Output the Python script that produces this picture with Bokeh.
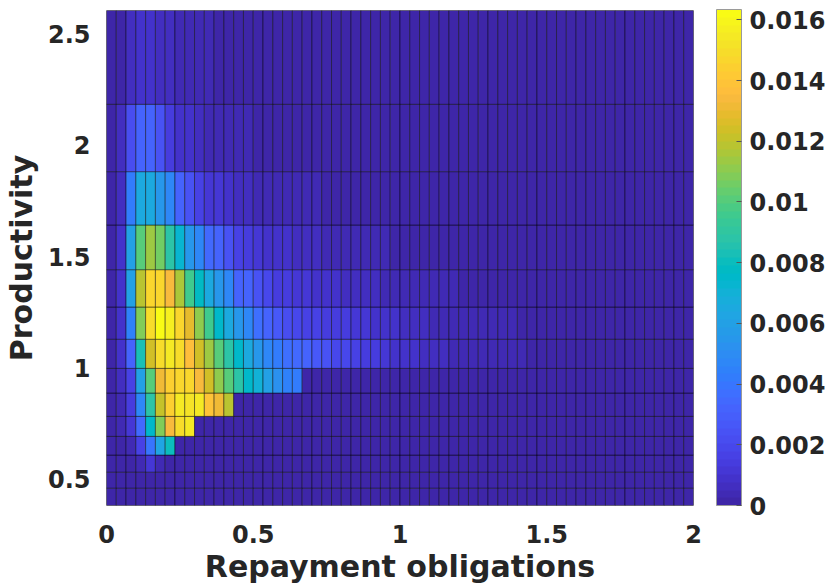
import numpy as np
from bokeh.plotting import figure
from bokeh.models import (LinearColorMapper, ColorBar, FixedTicker,
                          CustomJSTickFormatter, ColumnDataSource)
from bokeh.embed import file_html
from bokeh.resources import INLINE

# ---------------- data ----------------
repay_edges = np.linspace(0.0, 2.0, 61)          # 60 columns of repayment obligations
prod_edges = [0.380, 0.458, 0.530, 0.607, 0.691, 0.781, 0.886, 0.997,
              1.128, 1.273, 1.441, 1.642, 1.882, 2.185, 2.607]   # 14 productivity rows

# density, in units of 1e-4, rows from lowest productivity to highest (dark tail = 0)
row00 = [0]
row01 = [0, 0, 0, 1, 2]
row02 = [0, 1, 2, 4, 12, 3]
row03 = [0, 2, 5, 16, 39, 62, 80]
row04 = [0, 3, 11, 35, 75, 108, 135, 150, 155]
row05 = [0, 4, 14, 46, 88, 122, 144, 154, 151, 155, 140, 132, 119]
row06 = [0, 6, 16, 60, 102, 131, 144, 146, 146, 135, 123, 110, 100, 88, 76, 70, 60, 52, 45, 42]
row07 = [0, 8, 33, 84, 124, 150, 154, 150, 136, 124,
         114, 100, 88, 75, 66, 56, 48, 42, 37, 35,
         32, 26, 23, 20, 18, 16, 14, 13, 12, 10,
         9, 8, 7, 6, 6, 5, 5, 4, 4, 3,
         3, 3, 3, 2, 2, 2, 2, 2, 1, 1,
         1, 1, 1, 1, 1, 1, 1, 1, 1, 1]
row08 = [0, 9, 45, 109, 149, 161, 158, 148, 129, 111,
         96, 76, 65, 55, 46, 36, 33, 26, 22, 19,
         17, 16, 15, 14, 13, 12, 11, 10, 9, 8,
         7, 6, 6, 5, 5, 4, 4, 4, 3, 3,
         3, 3, 2, 2, 2, 2, 2, 1, 1, 1,
         1, 1, 1, 1, 1, 1, 1, 1, 1, 1]
row09 = [0, 9, 60, 119, 148, 148, 135, 117, 97, 79,
         65, 55, 46, 33, 31, 25, 19, 15, 13, 12,
         11, 10, 9, 8, 7, 7, 6, 6, 5, 5,
         4, 4, 3, 3, 3, 3, 2, 2, 2, 2,
         2, 1, 1, 1, 1, 1, 1, 1, 1, 1, 1]
row10 = [0, 8, 60, 100, 114, 106, 88, 73, 56, 47,
         34, 31, 23, 16, 14, 11, 10, 9, 8, 7,
         6, 6, 5, 5, 4, 4, 3, 3, 3, 2,
         2, 2, 2, 1, 1, 1, 1, 1, 1, 1, 1]
row11 = [0, 7, 41, 65, 65, 54, 46, 31, 25, 16,
         12, 11, 9, 7, 6, 5, 5, 4, 4, 3,
         3, 3, 2, 2, 2, 2, 1, 1, 1, 1, 1]
row12 = [0, 6, 21, 32, 32, 24, 14, 10, 8, 6,
         5, 4, 4, 3, 3, 2, 2, 2, 2, 1,
         1, 1, 1, 1, 1, 1, 1]
row13 = [0, 2, 6, 8, 8, 7, 6, 5, 4, 3,
         3, 2, 2, 2, 1, 1, 1, 1, 1, 1, 1]

density_rows = [row00, row01, row02, row03, row04, row05, row06, row07,
                row08, row09, row10, row11, row12, row13]

x_ticks = [0, 0.5, 1, 1.5, 2]
y_ticks = [0.5, 1, 1.5, 2, 2.5]
cbar_ticks = [0, 0.002, 0.004, 0.006, 0.008, 0.010, 0.012, 0.014, 0.016]
cbar_max = 0.01634

# MATLAB parula colormap (64 entries)
parula = [
    (0.2422, 0.1504, 0.6603), (0.2504, 0.1650, 0.7076), (0.2578, 0.1818, 0.7511), (0.2647, 0.1978, 0.7952),
    (0.2706, 0.2147, 0.8364), (0.2751, 0.2342, 0.8710), (0.2783, 0.2559, 0.8991), (0.2803, 0.2782, 0.9221),
    (0.2813, 0.3006, 0.9414), (0.2810, 0.3228, 0.9579), (0.2795, 0.3447, 0.9717), (0.2760, 0.3667, 0.9829),
    (0.2699, 0.3892, 0.9906), (0.2602, 0.4123, 0.9952), (0.2440, 0.4358, 0.9988), (0.2206, 0.4603, 0.9973),
    (0.1963, 0.4847, 0.9892), (0.1834, 0.5074, 0.9798), (0.1786, 0.5289, 0.9682), (0.1764, 0.5499, 0.9520),
    (0.1687, 0.5703, 0.9359), (0.1540, 0.5902, 0.9218), (0.1460, 0.6091, 0.9079), (0.1380, 0.6276, 0.8973),
    (0.1248, 0.6459, 0.8883), (0.1113, 0.6635, 0.8763), (0.0952, 0.6798, 0.8598), (0.0689, 0.6948, 0.8394),
    (0.0297, 0.7082, 0.8163), (0.0036, 0.7203, 0.7917), (0.0067, 0.7312, 0.7660), (0.0433, 0.7411, 0.7394),
    (0.0964, 0.7500, 0.7120), (0.1408, 0.7584, 0.6842), (0.1717, 0.7670, 0.6554), (0.1938, 0.7758, 0.6251),
    (0.2161, 0.7843, 0.5923), (0.2470, 0.7918, 0.5567), (0.2906, 0.7973, 0.5188), (0.3406, 0.8008, 0.4789),
    (0.3909, 0.8029, 0.4354), (0.4456, 0.8024, 0.3909), (0.5044, 0.7993, 0.3480), (0.5616, 0.7942, 0.3045),
    (0.6174, 0.7876, 0.2612), (0.6720, 0.7793, 0.2227), (0.7242, 0.7698, 0.1910), (0.7738, 0.7598, 0.1646),
    (0.8203, 0.7498, 0.1535), (0.8634, 0.7406, 0.1596), (0.9035, 0.7330, 0.1774), (0.9393, 0.7288, 0.2100),
    (0.9728, 0.7298, 0.2394), (0.9956, 0.7434, 0.2371), (0.9970, 0.7659, 0.2199), (0.9952, 0.7893, 0.2028),
    (0.9892, 0.8136, 0.1885), (0.9786, 0.8386, 0.1766), (0.9676, 0.8639, 0.1643), (0.9610, 0.8890, 0.1537),
    (0.9597, 0.9135, 0.1423), (0.9628, 0.9373, 0.1265), (0.9691, 0.9606, 0.1064), (0.9769, 0.9839, 0.0805),
]
palette = ["#%02x%02x%02x" % tuple(int(round(c * 255)) for c in rgb) for rgb in parula]

# ---------------- build cells ----------------
ncol = len(repay_edges) - 1
L, R, B, T, V = [], [], [], [], []
for i, row in enumerate(density_rows):
    full = list(row) + [0] * (ncol - len(row))
    for j in range(ncol):
        L.append(repay_edges[j]); R.append(repay_edges[j + 1])
        B.append(prod_edges[i]); T.append(prod_edges[i + 1])
        V.append(full[j] * 1e-4)
src = ColumnDataSource(dict(l=L, r=R, b=B, t=T, v=V))

mapper = LinearColorMapper(palette=palette, low=0.0, high=cbar_max)

FONT = "DejaVu Sans"
TXT = "#262626"

p = figure(width=828, height=587, output_backend="svg", toolbar_location=None,
           x_range=(0, 2), y_range=(prod_edges[0], prod_edges[-1]),
           min_border_left=105, min_border_right=135, min_border_top=10, min_border_bottom=82)
p.quad(left="l", right="r", bottom="b", top="t", source=src,
       fill_color={"field": "v", "transform": mapper},
       line_color="black", line_width=0.6, line_alpha=0.75)

fmt = CustomJSTickFormatter(code="return (Math.round(tick*1000)/1000).toString();")

p.xaxis.ticker = FixedTicker(ticks=x_ticks)
p.yaxis.ticker = FixedTicker(ticks=y_ticks)
for ax in (p.xaxis[0], p.yaxis[0]):
    ax.formatter = fmt
    ax.axis_line_color = None
    ax.major_tick_line_color = None
    ax.minor_tick_line_color = None
    ax.major_label_text_font = FONT
    ax.major_label_text_font_style = "bold"
    ax.major_label_text_font_size = "24px"
    ax.major_label_text_color = TXT
    ax.axis_label_text_font = FONT
    ax.axis_label_text_font_style = "bold"
    ax.axis_label_text_font_size = "30px"
    ax.axis_label_text_color = TXT
p.xaxis.axis_label = "Repayment obligations"
p.yaxis.axis_label = "Productivity"
p.xaxis.major_label_standoff = 13
p.yaxis.major_label_standoff = 10
p.xaxis.axis_label_standoff = 3
p.yaxis.axis_label_standoff = 6
p.grid.visible = False
p.outline_line_color = "#9a9a9a"
p.outline_line_width = 1

cb = ColorBar(color_mapper=mapper, ticker=FixedTicker(ticks=cbar_ticks), formatter=fmt,
              width=25, height=496, location=(610, 0), padding=0, margin=0,
              label_standoff=8, major_tick_in=5, major_tick_out=0,
              major_tick_line_color="#555555", minor_tick_line_color=None,
              bar_line_color="#9a9a9a", border_line_color=None, background_fill_color=None,
              major_label_text_font=FONT, major_label_text_font_style="bold",
              major_label_text_font_size="24px", major_label_text_color=TXT)
p.add_layout(cb, "center")

open("out.html", "w").write(file_html(p, INLINE))
